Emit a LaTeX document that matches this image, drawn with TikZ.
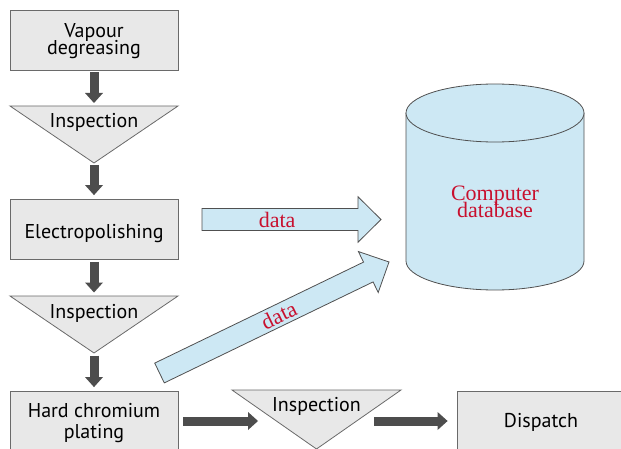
\documentclass[tikz,border=0pt]{standalone}
\usepackage{fontspec}
\setmainfont{PT Sans}
\newfontfamily\redserif{Liberation Serif}
\usetikzlibrary{arrows.meta,calc}
\definecolor{boxfill}{HTML}{E8E8E8}
\definecolor{boxline}{HTML}{6A6A6A}
\definecolor{darkarrow}{HTML}{4D4D4D}
\definecolor{lightblue}{HTML}{CDE8F4}
\definecolor{redtext}{HTML}{C8102E}
\definecolor{outline}{HTML}{505050}
\tikzset{
  stepbox/.style={draw=boxline, line width=0.8pt, fill=boxfill, minimum width=168pt, minimum height=60pt, inner sep=0pt},
  tri/.style={draw=boxline, line width=0.8pt, fill=boxfill},
  lbl/.style={inner sep=0pt, anchor=base, font=\fontsize{20}{20}\selectfont},
  darrow/.style={draw=darkarrow, line width=9pt, -{Triangle[width=18pt,length=10pt,line width=0pt]}},
  dataarrow/.style={draw=outline, line width=0.8pt, fill=lightblue, line join=miter},
  datalabel/.style={text=redtext, inner sep=0pt, font=\redserif\fontsize{22}{22}\selectfont},
  cyl/.style={draw=outline, line width=0.8pt, fill=lightblue},
}
\newcommand\dataarrowdraw[4]{%
  \draw[dataarrow] let \p1=($(#2)-(#1)$), \n1={atan2(\y1,\x1)} in
    ($(#1)+(\n1+90:11pt)$) -- ($(#2)!23pt!(#1)+(\n1+90:11pt)$) -- ($(#2)!23pt!(#1)+(\n1+90:22.75pt)$) -- (#2)
    -- ($(#2)!23pt!(#1)+(\n1-90:22.75pt)$) -- ($(#2)!23pt!(#1)+(\n1-90:11pt)$) -- ($(#1)+(\n1-90:11pt)$) -- cycle
    node[datalabel, rotate=\n1] (#4) at ($(#1)!#3!(#2)$) {data};
}
\begin{document}
\begin{tikzpicture}[x=1pt, y=-1pt]
\useasboundingbox (0,0) rectangle (621,449);
% boxes
\node[stepbox] (box1) at (94,40) {};
\node[lbl] (box1a) at (94,37.5) {Vapour};
\node[lbl] (box1b) at (94,54.5) {degreasing};
\node[stepbox] (box2) at (94,229) {};
\node[lbl] (box2a) at (94,238) {Electropolishing};
\node[stepbox] (box3) at (94,421) {};
\node[lbl] (box3a) at (94,417) {Hard chromium};
\node[lbl] (box3b) at (94,438) {plating};
\node[stepbox] (disp) at (541,421) {};
\node[lbl] (dispa) at (541,427) {Dispatch};
% triangles
\draw[tri] (10,106) -- (178,106) -- (94,163) coordinate (t1a) -- cycle;
\coordinate (t1top) at (94,106);
\node[lbl] (i1) at (94,128) {Inspection};
\draw[tri] (10,296) -- (178,296) -- (94,353) coordinate (t2a) -- cycle;
\coordinate (t2top) at (94,296);
\node[lbl] (i2) at (94,318) {Inspection};
\draw[tri] (232,390) -- (401,390) -- (316.5,449) coordinate (t3a) -- cycle;
\node[lbl] (i3) at (316.5,411) {Inspection};
% cylinder
\draw[cyl] (406,113) -- (406,261) arc[start angle=180, end angle=360, x radius=89pt, y radius=29pt] -- (584,113);
\draw[cyl] (495,113) ellipse[x radius=89pt, y radius=29pt];
\node[datalabel, anchor=base] (db1) at (495,201) {Computer};
\node[datalabel, anchor=base] (db2) at (495,218) {database};
% vertical flow arrows
\draw[darrow, shorten <=2pt, shorten >=3pt] (box1.south) -- (t1top);
\draw[darrow, shorten <=2pt, shorten >=3.5pt] (t1a) -- (box2.north);
\draw[darrow, shorten <=2.5pt, shorten >=3.5pt] (box2.south) -- (t2top);
\draw[darrow, shorten <=2.5pt, shorten >=3.5pt] (t2a) -- (box3.north);
% horizontal flow arrows
\coordinate (h1e) at (258,421);
\coordinate (h2s) at (374,421);
\draw[darrow, shorten <=5pt] (box3.east) -- (h1e);
\draw[darrow, shorten >=9pt] (h2s) -- (disp.west |- h2s);
% data arrows
\coordinate (d1s) at (202,219.5);
\coordinate (d1e) at (381,219.5);
\coordinate (d2s) at (159.5,373);
\coordinate (d2e) at (389,262);
\dataarrowdraw{d1s}{d1e}{0.42}{lab1}
\dataarrowdraw{d2s}{d2e}{0.52}{lab2}
\end{tikzpicture}
\end{document}
